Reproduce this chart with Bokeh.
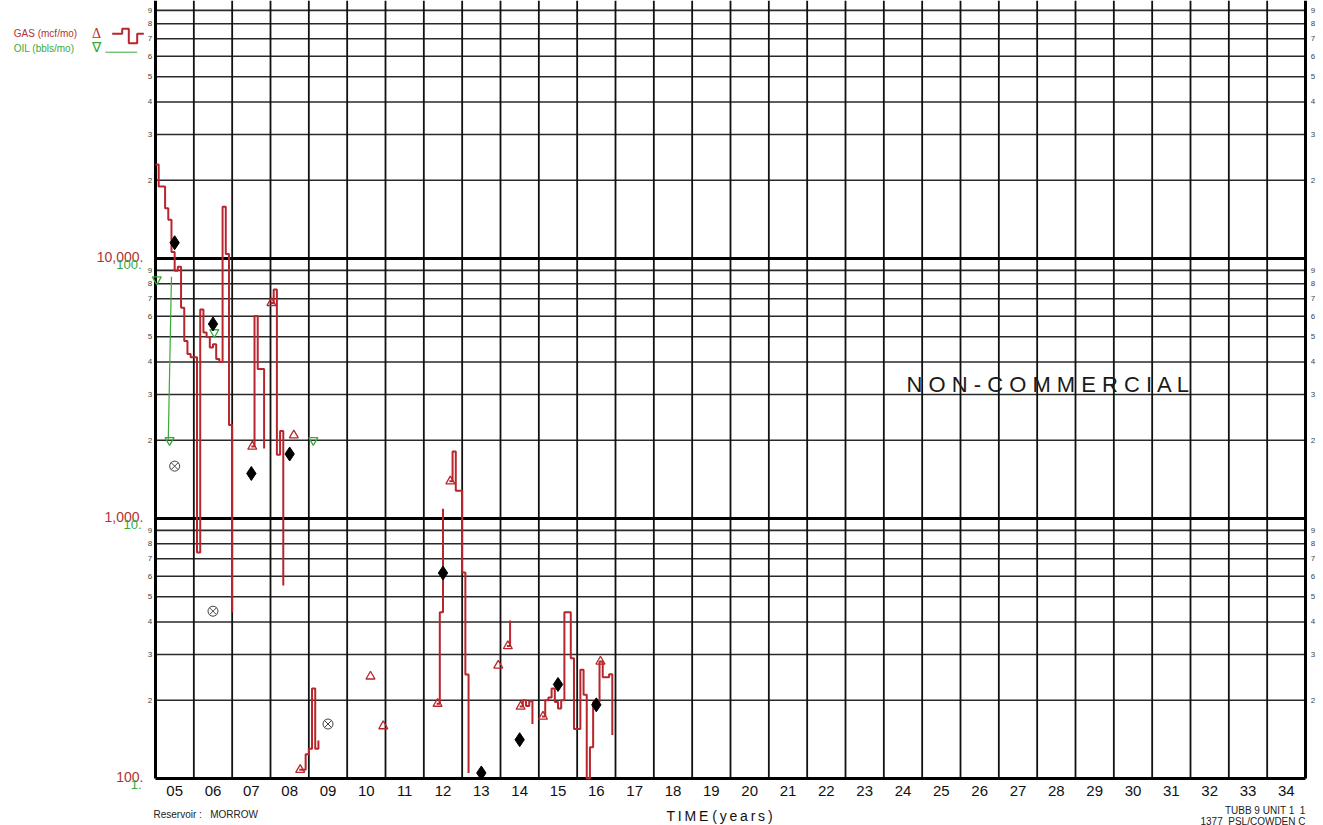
import math
from bokeh.plotting import figure
from bokeh.models import Range1d, LogScale
from bokeh.core.properties import value
from bokeh.embed import file_html
from bokeh.resources import INLINE

# ---------------- data ----------------
START_YEAR = 2005
END_YEAR = 2035
year_labels = ["05", "06", "07", "08", "09", "10", "11", "12", "13", "14",
               "15", "16", "17", "18", "19", "20", "21", "22", "23", "24",
               "25", "26", "27", "28", "29", "30", "31", "32", "33", "34"]

# monthly gas production (mcf/mo); each run starts at a month index (0 = Jan 2005)
gas_run_start = [0, 30, 36, 43, 45, 67, 71, 88, 92, 107, 110, 114, 121]
gas_run_mcf = [
    [23000, 18900, 18900, 15600, 14100, 10600, 8980, 9290, 6460, 4820, 4290, 4170,
     4170, 740, 6370, 5190, 4990, 4550, 4680, 4110, 4000, 15800, 10400, 2290, 435],
    [1890, 6010, 3760, 3760, 1860],
    [6750, 7600, 1760, 2170, 553],
    [2090],
    [108, 108, 124, 130, 222, 130, 140],
    [247],
    [159],
    [194, 436, 1090],
    [1390, 1810, 1280, 1280, 620, 251, 105],
    [272],
    [323, 405],
    [189, 200, 190, 198, 162],
    [173, 200, 205, 222, 197, 186, 200, 436, 436, 290, 155, 155, 262, 210, 90,
     132, 197, 197, 282, 245, 245, 252, 147],
]
gas_flag_months = [30, 36, 43, 45, 67, 71, 88, 92, 107, 110, 114, 121, 139]

# monthly oil production (bbls/mo)
oil_months = [0, 4, 5, 18, 49]
oil_bbl = [83, 20, 85, 52, 20]
oil_flag_months = [0, 4, 18, 49]

# annual averages
gas_avg_years = [2005, 2006, 2007, 2008, 2012, 2013, 2014, 2015, 2016]
gas_avg_mcf = [11500, 5600, 1490, 1770, 617, 105, 141, 230, 192]
oil_avg_years = [2005, 2006, 2009]
oil_avg_bbl = [15.9, 4.4, 1.62]

# ---------------- layout constants ----------------
W, H = 1323, 825
FONT = "Liberation Sans"
RED = "#b8262c"
RED_TXT = "#b03434"
GREEN = "#3aa83a"
FRAME_LEFT = 155.0        # page x of the chart's left edge (year 2005)
FRAME_BOTTOM = 778.0      # page y of the chart's bottom edge (100 mcf)
PX_YEAR = 1150 / 30.0
PX_DECADE = 260.0
YMIN = 100.0
NB = "\u00a0"


def fx(px):
    return START_YEAR + (px - FRAME_LEFT) / PX_YEAR


def fy(py):
    return 10 ** (2 + (FRAME_BOTTOM - py) / PX_DECADE)


def py_of(v):
    return FRAME_BOTTOM - math.log10(v / YMIN) * PX_DECADE


YTOP = fy(0)

p = figure(width=W, height=H, x_range=Range1d(fx(0), fx(W)),
           y_range=Range1d(fy(H), fy(0)), y_axis_type="log",
           x_axis_location=None, y_axis_location=None,
           toolbar_location=None, output_backend="svg", title=None, min_border=0)
p.extra_y_ranges = {"oil": Range1d(fy(H) / 100, fy(0) / 100)}
p.extra_y_scales = {"oil": LogScale()}
p.outline_line_color = None
p.background_fill_color = "white"
p.border_fill_color = "white"
p.xgrid.visible = False
p.ygrid.visible = False

# ---------------- chart grid ----------------
minor_vals = [m * 10 ** d for d in (2, 3, 4) for m in range(2, 10) if m * 10 ** d < YTOP]
p.segment(x0=[START_YEAR] * len(minor_vals), y0=minor_vals,
          x1=[END_YEAR] * len(minor_vals), y1=minor_vals,
          line_color="#2a2a2a", line_width=1.6)
inner_years = list(range(START_YEAR + 1, END_YEAR))
p.segment(x0=inner_years, y0=[YMIN] * len(inner_years), x1=inner_years,
          y1=[YTOP] * len(inner_years), line_color="#111111", line_width=1.8)
decades = [1000, 10000]
p.segment(x0=[START_YEAR] * 2, y0=decades, x1=[END_YEAR] * 2, y1=decades,
          line_color="black", line_width=3)
p.segment(x0=[START_YEAR, END_YEAR], y0=[YMIN, YMIN], x1=[START_YEAR, END_YEAR],
          y1=[YTOP, YTOP], line_color="black", line_width=3)
p.segment(x0=[START_YEAR], y0=[YMIN], x1=[END_YEAR], y1=[YMIN],
          line_color="black", line_width=3)

# ---------------- gas step line ----------------
xs, ys = [], []
gas_lookup = {}
for s, vals in zip(gas_run_start, gas_run_mcf):
    px_, py_ = [], []
    for i, v in enumerate(vals):
        m = s + i
        gas_lookup[m] = v
        x = START_YEAR + m / 12.0
        if i > 0:
            px_.append(x)
            py_.append(max(vals[i - 1], YMIN))
        px_.append(x)
        py_.append(max(v, YMIN))
    xs.append(px_)
    ys.append(py_)
p.multi_line(xs, ys, line_color=RED, line_width=2)

p.scatter([START_YEAR + (m + 0.3) / 12.0 for m in gas_flag_months],
          [gas_lookup[m] for m in gas_flag_months],
          marker="triangle", size=9, fill_color=None, line_color=RED, line_width=1.3)

# ---------------- oil ----------------
oxs, oys = [], []
for i in range(1, len(oil_months)):
    if oil_months[i] == oil_months[i - 1] + 1:
        oxs.append([START_YEAR + oil_months[i - 1] / 12.0, START_YEAR + oil_months[i] / 12.0])
        oys.append([oil_bbl[i - 1], oil_bbl[i]])
p.multi_line(oxs, oys, line_color=GREEN, line_width=1.2, y_range_name="oil")
oil_lookup = dict(zip(oil_months, oil_bbl))
p.scatter([START_YEAR + (m + 0.4) / 12.0 for m in oil_flag_months],
          [oil_lookup[m] for m in oil_flag_months],
          marker="inverted_triangle", size=9, fill_color=None, line_color=GREEN,
          line_width=1.3, y_range_name="oil")

# annual averages
p.scatter([y + 0.5 for y in gas_avg_years], gas_avg_mcf, marker="diamond", size=14,
          fill_color="black", line_color="black")
p.scatter([y + 0.5 for y in oil_avg_years], oil_avg_bbl, marker="circle_x", size=10,
          fill_color=None, line_color="#444444", line_width=1, y_range_name="oil")


# ---------------- texts ----------------
def txt(items, size, color, align, baseline, font=FONT):
    p.text(x=[fx(a) for a, b, t in items], y=[fy(b) for a, b, t in items],
           text=[t for a, b, t in items], text_font=value(font),
           text_font_size=value(size), text_color=color,
           text_align=value(align), text_baseline=value(baseline))


# decade labels: gas (red) and oil (green)
gas_dec = [(100, "100."), (1000, "1,000."), (10000, "10,000.")]
oil_dec = [(1, "1."), (10, "10."), (100, "100.")]
txt([(143, py_of(v) - 1.5, t) for v, t in gas_dec], "14px", RED_TXT, "right", "alphabetic")
txt([(141, py_of(v * 100) + 5.5, t) for v, t in oil_dec], "13px", GREEN, "right", "alphabetic")

# minor digit labels on both sides
digits = [str(int(round(v / 10 ** math.floor(math.log10(v))))) for v in minor_vals]
txt([(149.5, py_of(v), d) for v, d in zip(minor_vals, digits)], "8px", "#444444", "center", "middle")
txt([(1312.5, py_of(v), d) for v, d in zip(minor_vals, digits)], "8px", "#444444", "center", "middle")

# year labels under each column
p.text(x=[START_YEAR + i + 0.5 for i in range(len(year_labels))],
       y=[fy(790)] * len(year_labels), text=year_labels, text_font=value(FONT),
       text_font_size=value("15px"), text_color="#111111",
       text_align=value("center"), text_baseline=value("middle"))

# legend
txt([(13.3, 32.5, "GAS (mcf/mo)")], "10px", RED_TXT, "left", "middle")
txt([(13.3, 48, "OIL (bbls/mo)")], "10px", GREEN, "left", "middle")
txt([(96, 33, "\u0394")], "14px", RED_TXT, "center", "middle", font="Liberation Serif")
txt([(96, 47, "\u2207")], "14px", GREEN, "center", "middle", font="Liberation Serif")
icon = [(111.7, 33.3), (121.7, 33.3), (121.7, 28.3), (128.3, 28.3), (128.3, 42.7),
        (136.7, 42.7), (136.7, 33.3), (143.3, 33.3)]
p.line([fx(a) for a, b in icon], [fy(b) for a, b in icon], line_color=RED, line_width=2)
p.line([fx(105), fx(136.7)], [fy(51.7), fy(51.7)], line_color=GREEN, line_width=1)

# annotations
txt([(906, 383.5, "N O N - C O M M E R C I A L")], "22px", "#1a1a1a", "left", "middle")
txt([(719, 815, "T\u2009I\u2009M\u2009E (\u2009y\u2009e\u2009a\u2009r\u2009s\u2009)")],
    "14px", "#111111", "center", "middle")
txt([(153, 813.5, "Reservoir :" + NB * 3 + "MORROW")], "10px", "#222222", "left", "middle")
txt([(1305, 810, "TUBB 9 UNIT 1" + NB * 2 + "1")], "10px", "#222222", "right", "middle")
txt([(1305, 820.5, "1377" + NB * 2 + "PSL/COWDEN C")], "10px", "#222222", "right", "middle")

open("out.html", "w").write(file_html(p, INLINE))
